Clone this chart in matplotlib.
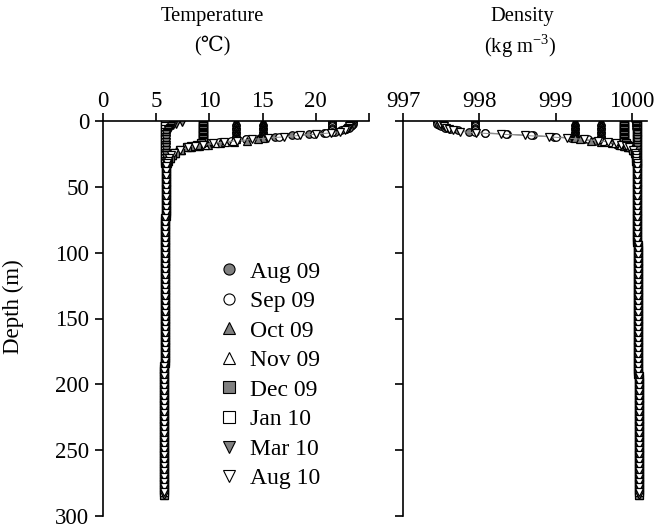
import matplotlib
matplotlib.use("Agg")
import matplotlib.pyplot as plt
from matplotlib.lines import Line2D

plt.rcParams['font.family'] = ['Liberation Serif', 'DejaVu Serif']
plt.rcParams['mathtext.fontset'] = 'custom'
plt.rcParams['mathtext.rm'] = 'Liberation Serif'
plt.rcParams['font.size'] = 16

# ---- data ----
labels = ['Aug 09', 'Sep 09', 'Oct 09', 'Nov 09', 'Dec 09', 'Jan 10', 'Mar 10', 'Aug 10']

# upper water column (m), per survey
aug09_depth = [0, 1, 2, 3, 4, 5, 6, 7, 8, 9, 10, 11, 12, 13, 14, 15, 16, 17, 18, 19, 20, 22, 24, 26, 28, 30, 32]
aug09_temp = [23.5, 23.5, 23.5, 23.4, 23.3, 23.1, 22.8, 22.4, 21.8, 20.8, 19.4, 17.8, 16.2, 14.8, 13.4, 12.2,
              11.1, 10.1, 9.3, 8.6, 8.0, 7.2, 6.7, 6.4, 6.2, 6.1, 6.0]
aug09_rho = [997.44, 997.44, 997.44, 997.47, 997.50, 997.55, 997.62, 997.72, 997.86, 998.08, 998.37, 998.70,
             998.98, 999.20, 999.38, 999.52, 999.63, 999.73, 999.81, 999.88, 999.93, 1000.00, 1000.03,
             1000.05, 1000.06, 1000.06, 1000.07]

sep09_depth = [0, 1, 2, 3, 4, 5, 6, 7, 8, 9, 10, 11, 12, 13, 14, 15, 16, 17, 18, 19, 20, 22, 24, 26, 28, 30, 32]
sep09_temp = [21.5, 21.5, 21.5, 21.5, 21.5, 21.5, 21.5, 21.5, 21.5, 21.0, 19.8, 18.2, 16.5, 14.9, 13.4, 12.0,
              10.9, 9.9, 9.1, 8.4, 7.9, 7.1, 6.6, 6.35, 6.2, 6.1, 6.0]
sep09_rho = [997.95, 997.95, 997.95, 997.95, 997.95, 997.95, 997.95, 997.95, 997.95, 998.07, 998.35, 998.68,
             999.00, 999.24, 999.42, 999.58, 999.70, 999.80, 999.87, 999.93, 999.97, 1000.02, 1000.04,
             1000.05, 1000.06, 1000.06, 1000.07]

oct09_depth = [0, 1, 2, 3, 4, 5, 6, 7, 8, 9, 10, 11, 12, 13, 14, 15, 16, 17, 18, 19, 20, 22, 24, 26, 28, 30, 32]
oct09_temp = [15.0, 15.0, 15.0, 15.0, 15.0, 15.0, 15.0, 15.0, 15.0, 15.0, 15.0, 15.0, 15.0, 15.0, 14.6, 13.5,
              12.3, 11.0, 9.9, 9.0, 8.3, 7.3, 6.8, 6.45, 6.25, 6.1, 6.0]
oct09_rho = [999.26, 999.26, 999.26, 999.26, 999.26, 999.26, 999.26, 999.26, 999.26, 999.26, 999.26, 999.26,
             999.26, 999.26, 999.32, 999.46, 999.60, 999.74, 999.84, 999.90, 999.95, 1000.01, 1000.04,
             1000.05, 1000.06, 1000.06, 1000.07]

nov09_depth = [0, 1, 2, 3, 4, 5, 6, 7, 8, 9, 10, 11, 12, 13, 14, 15, 16, 17, 18, 19, 20, 22, 24, 26, 28, 30, 32]
nov09_temp = [12.5, 12.5, 12.5, 12.5, 12.5, 12.5, 12.5, 12.5, 12.5, 12.5, 12.5, 12.5, 12.5, 12.5, 12.5, 12.2,
              11.5, 10.5, 9.6, 8.8, 8.2, 7.3, 6.8, 6.45, 6.25, 6.1, 6.0]
nov09_rho = [999.60, 999.60, 999.60, 999.60, 999.60, 999.60, 999.60, 999.60, 999.60, 999.60, 999.60, 999.60,
             999.60, 999.60, 999.60, 999.63, 999.70, 999.78, 999.86, 999.91, 999.95, 1000.01, 1000.04,
             1000.05, 1000.06, 1000.06, 1000.07]

dec09_depth = [0, 1, 2, 3, 4, 5, 6, 7, 8, 9, 10, 11, 12, 13, 14, 15, 16, 17, 18, 19, 20, 22, 24, 26, 28, 30, 32]
dec09_temp = [9.4, 9.4, 9.4, 9.4, 9.4, 9.4, 9.4, 9.4, 9.4, 9.4, 9.4, 9.4, 9.4, 9.4, 9.4, 9.4, 9.4, 9.2, 8.8,
              8.3, 7.9, 7.2, 6.8, 6.45, 6.25, 6.1, 6.0]
dec09_rho = [999.90, 999.90, 999.90, 999.90, 999.90, 999.90, 999.90, 999.90, 999.90, 999.90, 999.90, 999.90,
             999.90, 999.90, 999.90, 999.90, 999.90, 999.92, 999.94, 999.96, 999.98, 1000.02, 1000.04,
             1000.05, 1000.06, 1000.06, 1000.07]

jan10_depth = [0, 2, 4, 6, 8, 10, 12, 14, 16, 18, 20, 22, 24, 26, 28, 30, 32]
jan10_temp = [5.8, 5.8, 5.8, 5.8, 5.8, 5.8, 5.8, 5.8, 5.8, 5.8, 5.8, 5.8, 5.8, 5.8, 5.8, 5.8, 5.8]
jan10_rho = [1000.07, 1000.07, 1000.07, 1000.07, 1000.07, 1000.07, 1000.07, 1000.07, 1000.07, 1000.07,
             1000.07, 1000.07, 1000.07, 1000.07, 1000.07, 1000.07, 1000.07]

mar10_depth = [1, 2, 3, 4, 5, 6, 7, 8, 9, 10, 12, 14, 16, 18, 20, 22, 24, 26, 28, 30, 32]
mar10_temp = [7.4, 6.9, 6.6, 6.4, 6.3, 6.2, 6.1, 6.05, 6.0, 5.95, 5.9, 5.9, 5.9, 5.9, 5.9, 5.9, 5.9, 5.9,
              5.9, 5.9, 5.9]
mar10_rho = [1000.03, 1000.04, 1000.05, 1000.05, 1000.06, 1000.06, 1000.06, 1000.06, 1000.07, 1000.07,
             1000.07, 1000.07, 1000.07, 1000.07, 1000.07, 1000.07, 1000.07, 1000.07, 1000.07, 1000.07, 1000.07]

aug10_depth = [1, 2, 3, 4, 5, 6, 7, 8, 9, 10, 11, 12, 13, 14, 15, 16, 17, 18, 19, 20, 22, 24, 26, 28, 30, 32]
aug10_temp = [23.3, 23.3, 23.2, 23.1, 23.0, 22.9, 22.7, 22.3, 21.4, 20.0, 18.5, 17.0, 15.5, 14.0, 12.6, 11.4,
              10.3, 9.4, 8.6, 8.0, 7.2, 6.7, 6.4, 6.2, 6.1, 6.0]
aug10_rho = [997.49, 997.49, 997.52, 997.54, 997.57, 997.60, 997.65, 997.75, 997.96, 998.28, 998.60, 998.92,
             999.15, 999.38, 999.56, 999.69, 999.79, 999.86, 999.92, 999.96, 1000.02, 1000.04, 1000.05,
             1000.06, 1000.06, 1000.07]

# hypolimnion, where all surveys overlap (two sampling grids, staggered)
deep_depth_a = [36, 40, 44, 48, 52, 56, 60, 64, 68, 72,
                76, 80, 84, 88, 92, 96, 100, 104, 108, 112,
                116, 120, 124, 128, 132, 136, 140, 144, 148, 152,
                156, 160, 164, 168, 172, 176, 180, 184, 188, 192,
                196, 200, 204, 208, 212, 216, 220, 224, 228, 232,
                236, 240, 244, 248, 252, 256, 260, 264, 268, 272,
                276, 280, 284]
deep_depth_b = [34, 38, 42, 46, 50, 54, 58, 62, 66, 70,
                74, 78, 82, 86, 90, 94, 98, 102, 106, 110,
                114, 118, 122, 126, 130, 134, 138, 142, 146, 150,
                154, 158, 162, 166, 170, 174, 178, 182, 186, 190,
                194, 198, 202, 206, 210, 214, 218, 222, 226, 230,
                234, 238, 242, 246, 250, 254, 258, 262, 266, 270,
                274, 278, 282]
deep_temp = [5.95, 5.93, 5.92, 5.91, 5.90, 5.90, 5.89, 5.89, 5.88, 5.88,
             5.87, 5.87, 5.86, 5.86, 5.86, 5.85, 5.85, 5.85, 5.84, 5.84,
             5.84, 5.83, 5.83, 5.83, 5.82, 5.82, 5.82, 5.81, 5.81, 5.81,
             5.80, 5.80, 5.80, 5.80, 5.79, 5.79, 5.79, 5.79, 5.78, 5.78,
             5.78, 5.78, 5.77, 5.77, 5.77, 5.77, 5.76, 5.76, 5.76, 5.76,
             5.76, 5.75, 5.75, 5.75, 5.75, 5.75, 5.74, 5.74, 5.74, 5.74,
             5.74, 5.74, 5.74]
deep_rho = [1000.07, 1000.07, 1000.07, 1000.07, 1000.07, 1000.07, 1000.07, 1000.07, 1000.07, 1000.07,
            1000.07, 1000.07, 1000.07, 1000.07, 1000.07, 1000.08, 1000.08, 1000.08, 1000.08, 1000.08,
            1000.08, 1000.08, 1000.08, 1000.08, 1000.08, 1000.08, 1000.08, 1000.08, 1000.08, 1000.08,
            1000.08, 1000.08, 1000.08, 1000.08, 1000.08, 1000.08, 1000.08, 1000.08, 1000.08, 1000.08,
            1000.09, 1000.09, 1000.09, 1000.09, 1000.09, 1000.09, 1000.09, 1000.09, 1000.09, 1000.09,
            1000.09, 1000.09, 1000.09, 1000.09, 1000.09, 1000.09, 1000.09, 1000.09, 1000.09, 1000.09,
            1000.09, 1000.09, 1000.09]

depths = [aug09_depth, sep09_depth, oct09_depth, nov09_depth, dec09_depth, jan10_depth, mar10_depth, aug10_depth]
temps = [aug09_temp, sep09_temp, oct09_temp, nov09_temp, dec09_temp, jan10_temp, mar10_temp, aug10_temp]
rhos = [aug09_rho, sep09_rho, oct09_rho, nov09_rho, dec09_rho, jan10_rho, mar10_rho, aug10_rho]

markers = ['o', 'o', '^', '^', 's', 's', 'v', 'v']
fills = ['#808080', 'white', '#808080', 'white', '#808080', 'white', '#808080', 'white']

fig = plt.figure(figsize=(6.6, 5.29), dpi=100)
ax1 = fig.add_axes([103 / 660, 1 - 516 / 529, 266 / 660, 395 / 529])
ax2 = fig.add_axes([403 / 660, 1 - 516 / 529, 244 / 660, 395 / 529])

for i in range(len(labels)):
    # alternate surveys sit on the two staggered deep grids
    deep_d = deep_depth_a if i % 2 == 0 else deep_depth_b
    d = depths[i] + deep_d
    t = temps[i] + deep_temp
    r = rhos[i] + deep_rho
    kw = dict(color='0.55', lw=0.7, marker=markers[i], ms=5.4, mfc=fills[i], mec='black', mew=0.9)
    ax1.plot(t, d, **kw)
    ax2.plot(r, d, **kw)

for ax in (ax1, ax2):
    ax.set_ylim(300, 0)
    ax.set_yticks([0, 50, 100, 150, 200, 250, 300])
    ax.xaxis.tick_top()
    ax.spines['right'].set_visible(False)
    ax.spines['bottom'].set_visible(False)
    ax.spines['top'].set_linewidth(1.2)
    ax.spines['left'].set_linewidth(1.2)
    ax.tick_params(direction='out', length=6, width=1.2, labelsize=16.5)
    ax.tick_params(axis='x', pad=0.5)
    ax.tick_params(axis='y', pad=4)
    ax.set_facecolor('none')

ax1.set_xlim(0, 25)
ax1.set_xticks([0, 5, 10, 15, 20, 25])
ax1.set_xticklabels(['0', '5', '10', '15', '20', ''])
ax1.set_ylabel('Depth (m)', fontsize=16.5)
ax1.yaxis.set_label_coords(-0.297, 0.53)

ax2.set_xlim(997, 1000.2)
ax2.set_xticks([997, 998, 999, 1000])
ax2.set_yticklabels([])

fig.text(212 / 660, 1 - 16 / 529, 'Temperature', ha='center', va='center', fontsize=14.8)
fig.text(212 / 660, 1 - 46 / 529, '(\u2103)', ha='center', va='center', fontsize=14.8)
fig.text(522 / 660, 1 - 16 / 529, 'Density', ha='center', va='center', fontsize=14.8)
fig.text(520 / 660, 1 - 46 / 529, '(kg m$^{-3}$)', ha='center', va='center', fontsize=14.8)

handles = [Line2D([], [], ls='none', marker=markers[i], ms=8, mfc=fills[i], mec='black', mew=0.8)
           for i in range(len(labels))]
ax1.legend(handles, labels, loc='upper left', bbox_to_anchor=(218 / 660, 1 - 261 / 529),
           bbox_transform=fig.transFigure, frameon=False, fontsize=17, handlelength=0.9,
           handletextpad=0.45, labelspacing=0.34, borderpad=0, borderaxespad=0)

fig.savefig('out.png', dpi=100)
